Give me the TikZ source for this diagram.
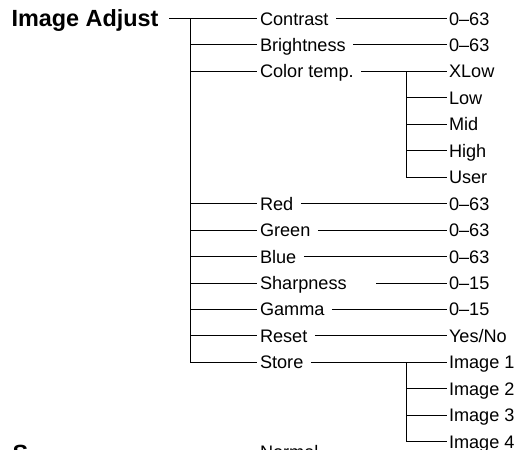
\documentclass[tikz,border=0pt]{standalone}
\usepackage{fontspec}
\setmainfont{Liberation Sans}

\begin{document}
\begin{tikzpicture}[x=1bp,y=-26.45bp,line width=1bp,
  head/.style={anchor=west,inner sep=0pt,font=\fontsize{23.5}{25}\selectfont\bfseries,text height=16.4bp,text depth=0pt},
  item/.style={anchor=west,inner xsep=2.5bp,inner ysep=0pt,font=\fontsize{18.2}{20}\selectfont,text height=13bp,text depth=0pt},
  val/.style={item,inner xsep=1.5bp},
  lead/.style={shorten <=4.5bp}]
\useasboundingbox (0,-0.7) rectangle (521,16.276);
\clip (0,-0.7) rectangle (521,16.276);
% menu items
\node[head] (adj) at (11,0) {Image Adjust};
\node[item] (contrast) at (257,0) {Contrast};
\node[item] (bright) at (257,1) {Brightness};
\node[item] (ctemp) at (257,2) {Color temp.};
\node[item] (red) at (257,7) {Red};
\node[item] (green) at (257,8) {Green};
\node[item] (blue) at (257,9) {Blue};
\node[item] (sharp) at (257,10) {Sharpness};
\node[item] (gamma) at (257,11) {Gamma};
\node[item] (reset) at (257,12) {Reset};
\node[item] (store) at (257,13) {Store};
% settings
\node[val] (v0) at (447,0) {0--63};
\node[val] (v1) at (447,1) {0--63};
\node[val] (xlow) at (447,2) {XLow};
\node[val] (low) at (447,3) {Low};
\node[val] (mid) at (447,4) {Mid};
\node[val] (high) at (447,5) {High};
\node[val] (user) at (447,6) {User};
\node[val] (v7) at (447,7) {0--63};
\node[val] (v8) at (447,8) {0--63};
\node[val] (v9) at (447,9) {0--63};
\node[val] (v10) at (447,10) {0--15};
\node[val] (v11) at (447,11) {0--15};
\node[val] (yesno) at (447,12) {Yes/No};
\node[val] (img1) at (447,13) {Image 1};
\node[val] (img2) at (447,14) {Image 2};
\node[val] (img3) at (447,15) {Image 3};
\node[val] (img4) at (447,16) {Image 4};
% next menu, cut off at the bottom
\node[head] (next) at (12,16.42) {S};
\node[item] (normal) at (257,16.38) {Normal};
% tree
\draw[shorten <=10bp] (adj.east) -- (contrast.west);
\coordinate (fork) at (190,0);
\draw (fork) |- (store.west);
\foreach \n in {bright,ctemp,red,green,blue,sharp,gamma,reset}
  \draw (fork |- \n.west) -- (\n.west);
\draw[lead] (contrast.east) -- (v0.west);
\draw[lead] (bright.east) -- (v1.west);
\draw[lead] (ctemp.east) -- (xlow.west);
\draw[lead] (red.east) -- (v7.west);
\draw[lead] (green.east) -- (v8.west);
\draw[lead] (blue.east) -- (v9.west);
\draw[shorten <=26.5bp] (sharp.east) -- (v10.west);
\draw[lead] (gamma.east) -- (v11.west);
\draw[lead] (reset.east) -- (yesno.west);
\draw[lead] (store.east) -- (img1.west);
% sub-branches
\coordinate (ctfork) at (406,2);
\draw (ctfork) |- (user.west);
\foreach \n in {low,mid,high}
  \draw (ctfork |- \n.west) -- (\n.west);
\coordinate (stfork) at (406.7,13);
\draw (stfork) |- (img4.west);
\foreach \n in {img2,img3}
  \draw (stfork |- \n.west) -- (\n.west);
\end{tikzpicture}
\end{document}
